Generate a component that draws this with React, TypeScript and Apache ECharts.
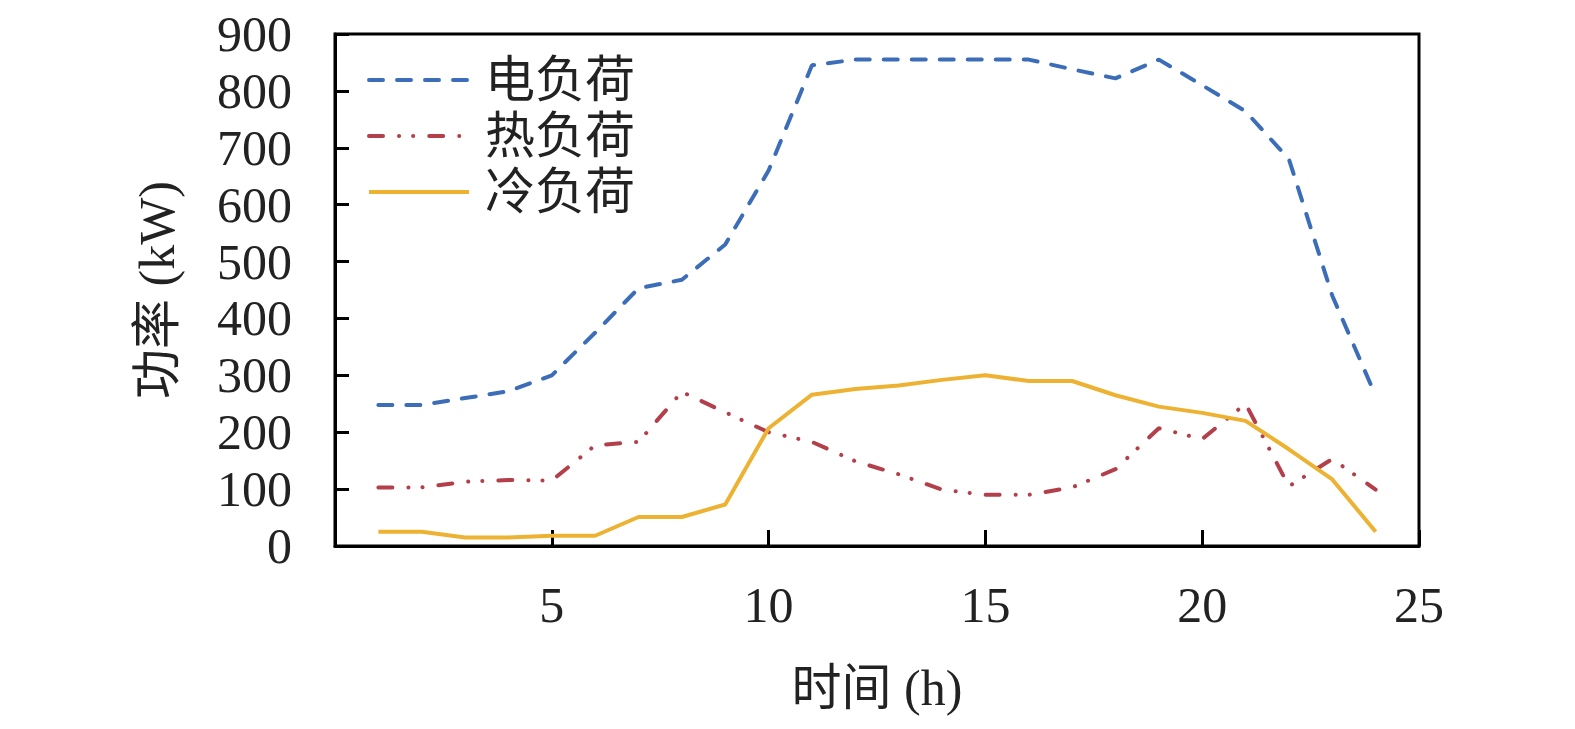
import React, { useEffect, useRef } from "react";
import * as echarts from "echarts";

const hours = [1, 2, 3, 4, 5, 6, 7, 8, 9, 10, 11, 12, 13, 14, 15, 16, 17, 18, 19, 20, 21, 22, 23, 24];
const electricLoad = [248, 248, 260, 272, 300, 375, 453, 468, 530, 660, 845, 855, 855, 855, 855, 855, 838, 822, 855, 810, 764, 680, 440, 264];
const heatLoad = [103, 103, 113, 116, 115, 177, 183, 271, 235, 200, 183, 149, 126, 99, 90, 90, 103, 135, 207, 188, 250, 105, 153, 99];
const coolLoad = [25, 25, 15, 15, 18, 18, 51, 51, 73, 207, 266, 276, 282, 292, 300, 290, 290, 265, 245, 234, 220, 170, 117, 25];
const seriesNames = ["电负荷", "热负荷", "冷负荷"];
const xTicks = [0, 5, 10, 15, 20, 25];
const yTicks = [0, 100, 200, 300, 400, 500, 600, 700, 800, 900];

const FONT = '"Liberation Serif", "Times New Roman", "Noto Sans CJK SC", serif';

const pairs = (vals: number[]) => hours.map((h, i) => [h, vals[i]]);

export default function App() {
  const ref = useRef<HTMLDivElement>(null);
  useEffect(() => {
    if (!ref.current) return;
    const chart = echarts.init(ref.current, undefined, { renderer: "svg" });
    chart.setOption({
      animation: false,
      backgroundColor: "#fff",
      textStyle: { fontFamily: FONT },
      grid: {
        left: 335,
        right: 156,
        top: 34,
        bottom: 183,
        show: true,
        borderColor: "#000",
        borderWidth: 3,
      },
      legend: {
        left: 362,
        top: 50,
        orient: "vertical",
        itemWidth: 100,
        itemHeight: 14,
        itemGap: 6,
        data: seriesNames,
        itemStyle: { opacity: 0 },
        lineStyle: { width: 4 },
        textStyle: {
          fontFamily: FONT,
          fontSize: 50,
          lineHeight: 50,
          color: "#222",
          padding: [0, 0, 0, 11],
        },
      },
      xAxis: {
        type: "value",
        min: xTicks[0],
        max: xTicks[xTicks.length - 1],
        interval: 5,
        name: "时间 (h)",
        nameLocation: "middle",
        nameGap: 117,
        nameTextStyle: { fontFamily: FONT, fontSize: 50, color: "#222" },
        axisLine: { lineStyle: { color: "#000", width: 3 } },
        axisTick: { inside: true, length: 16, lineStyle: { color: "#000", width: 3 } },
        axisLabel: {
          margin: 34,
          fontFamily: FONT,
          fontSize: 50,
          color: "#222",
          formatter: (v: number) => (v === 0 ? "" : String(v)),
        },
        splitLine: { show: false },
      },
      yAxis: {
        type: "value",
        min: yTicks[0],
        max: yTicks[yTicks.length - 1],
        interval: 100,
        name: "功率 (kW)",
        nameLocation: "middle",
        nameGap: 153,
        nameTextStyle: { fontFamily: FONT, fontSize: 50, color: "#222" },
        axisLine: { show: true, lineStyle: { color: "#000", width: 3 } },
        axisTick: { show: true, inside: true, length: 14, lineStyle: { color: "#000", width: 3 } },
        axisLabel: { margin: 43, fontFamily: FONT, fontSize: 50, color: "#222" },
        splitLine: { show: false },
      },
      series: [
        {
          name: seriesNames[0],
          type: "line",
          data: pairs(electricLoad),
          symbol: "none",
          lineStyle: { color: "#3C6DB8", width: 4, type: [14, 14], cap: "round" },
          itemStyle: { color: "#3C6DB8" },
        },
        {
          name: seriesNames[1],
          type: "line",
          data: pairs(heatLoad),
          symbol: "none",
          lineStyle: { color: "#B23F4A", width: 4, type: [14, 16, 0.1, 14, 0.1, 16], cap: "round" },
          itemStyle: { color: "#B23F4A" },
        },
        {
          name: seriesNames[2],
          type: "line",
          data: pairs(coolLoad),
          symbol: "none",
          lineStyle: { color: "#EDB232", width: 4, type: "solid" },
          itemStyle: { color: "#EDB232" },
        },
      ],
    });
    return () => chart.dispose();
  }, []);
  return (
    <div
      ref={ref}
      style={{ position: "fixed", left: 0, top: 0, width: "1575px", height: "729px" }}
    />
  );
}
